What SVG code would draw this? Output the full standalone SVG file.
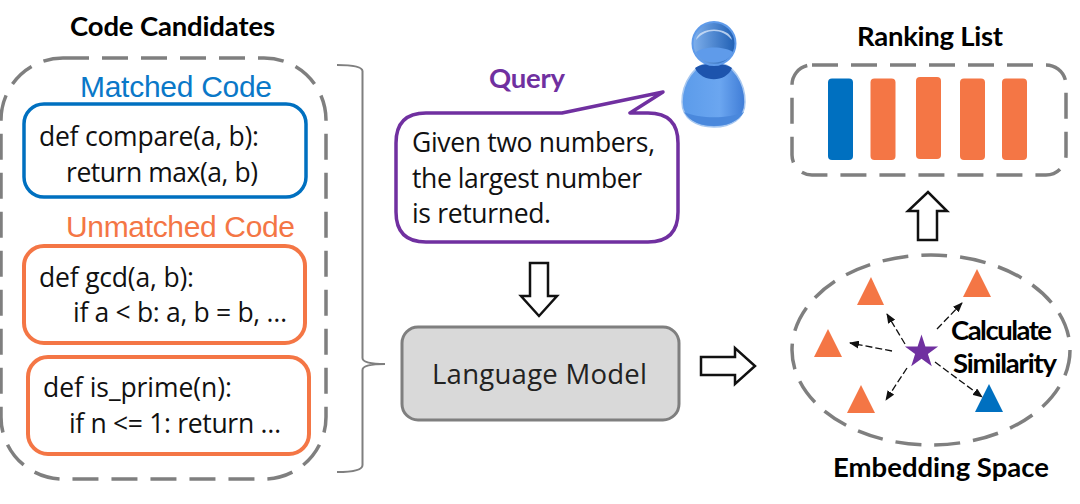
<svg xmlns="http://www.w3.org/2000/svg" width="1080" height="504" viewBox="0 0 1080 504">
<style>
.dash{fill:none;stroke:#7f7f7f;stroke-width:3.5;stroke-dasharray:26 13}
.code{font-family:"Open Sans","Liberation Sans",sans-serif;font-size:26.500px;fill:#111}
.title{font-family:Lato,"Open Sans",sans-serif;font-size:27.500px;font-weight:700;fill:#000}
.sub{font-family:"Liberation Sans",Arial,sans-serif;font-size:30px}
.blue{fill:none;stroke:#0070c0;stroke-width:3.5}
.orange{fill:none;stroke:#f47645;stroke-width:4}
.hollow{fill:#fff;stroke:#111;stroke-width:2.5;stroke-linejoin:miter}
.link{stroke:#111;stroke-width:1.3;stroke-dasharray:7 3;fill:none;marker-end:url(#tip)}
.ot{fill:#f47645}
</style>
<defs>
<marker id="tip" markerUnits="userSpaceOnUse" markerWidth="10" markerHeight="8" refX="9" refY="4" orient="auto"><path d="M0 0L10 4L0 8z" fill="#111"/></marker>
<linearGradient id="skin" x1="0" x2="1" y1="0" y2="0"><stop offset="0" stop-color="#5b9bea"/><stop offset=".6" stop-color="#6ba6f0"/><stop offset="1" stop-color="#3f7cd6"/></linearGradient>
<linearGradient id="headg" x1="0" x2="1" y1="0" y2="0"><stop offset="0" stop-color="#7fb0ec"/><stop offset="1" stop-color="#1f5fb4"/></linearGradient>
</defs>
<g id="candidates">
<text class="title" x="70" y="36" textLength="205">Code Candidates</text>
<rect class="dash" x="1" y="58" width="325" height="421" rx="62"/>
<path d="M337 65Q362 65 362.500 71V358Q362.500 364 385 364Q362.500 364 362.500 370V465Q362.500 472 337 472" fill="none" stroke="#7f7f7f" stroke-width="2"/>
</g>
<g id="matched">
<text class="sub" x="80" y="97" textLength="192" fill="#0a78c8">Matched Code</text>
<rect class="blue" x="24" y="104" width="282" height="93" rx="20"/>
<text class="code" x="39" y="146" textLength="220">def compare(a, b):</text>
<text class="code" x="66" y="182" textLength="192">return max(a, b)</text>
</g>
<g id="unmatched-gcd">
<text class="sub" x="66" y="237" textLength="229" fill="#f47645">Unmatched Code</text>
<rect class="orange" x="24" y="246" width="281" height="97" rx="20"/>
<text class="code" x="39" y="287" textLength="155">def gcd(a, b):</text>
<text class="code" x="73" y="322" textLength="214">if a &lt; b: a, b = b, …</text>
</g>
<g id="unmatched-prime">
<rect class="orange" x="28" y="357" width="281" height="97" rx="20"/>
<text class="code" x="43" y="397" textLength="189">def is_prime(n):</text>
<text class="code" x="69" y="433" textLength="212">if n &lt;= 1: return …</text>
</g>
<g id="query">
<text class="title" x="489" y="88" textLength="76" style="fill:#7030a0">Query</text>
<path d="M426 113H562L663 92L630 113H648Q678 113 678 143V212Q678 242 648 242H426Q396 242 396 212V143Q396 113 426 113Z" fill="#fff" stroke="#7030a0" stroke-width="3.500" stroke-linejoin="round"/>
<text class="code" x="412" y="152" textLength="243">Given two numbers,</text>
<text class="code" x="412" y="188" textLength="230">the largest number</text>
<text class="code" x="412" y="223" textLength="139">is returned.</text>
</g>
<g id="user">
<path d="M714 62C694 62 682 84 682 102C682 119 697 127 714 127C731 127 745 119 745 102C745 84 734 62 714 62Z" fill="url(#skin)" stroke="#a8c8f0" stroke-width="1.500"/>
<path d="M695 68C703 62 724 62 732 68C726 83 702 83 695 68Z" fill="#1d54ad"/>
<path d="M684 112C700 119 728 119 744 112C738 122 726 126 714 126C702 126 690 122 684 112Z" fill="#4a88dc"/>
<circle cx="714" cy="43.500" r="21.500" fill="url(#headg)" stroke="#5f9bea" stroke-width="2"/>
<path d="M696 52C704 46 724 46 733 52C728 66 700 66 696 52Z" fill="#5f9bea"/>
<path d="M696 40C698 26 730 26 732 40C722 28 706 28 696 40Z" fill="#d4e4f8" opacity=".8"/>
</g>
<g id="language-model">
<rect x="402" y="327" width="277" height="93" rx="16" fill="#d9d9d9" stroke="#7f7f7f" stroke-width="3"/>
<text x="432" y="384" textLength="215" font-family="Open Sans,Liberation Sans,sans-serif" font-size="27.500" fill="#222">Language Model</text>
</g>
<g id="ranking">
<text class="title" x="857" y="46" textLength="146">Ranking List</text>
<rect class="dash" x="792" y="65" width="274" height="110" rx="20"/>
<rect x="828" y="78.500" width="25" height="81.500" rx="4" fill="#0070c0"/>
<rect class="ot" x="870.500" y="78.500" width="25" height="81.500" rx="4"/>
<rect class="ot" x="916" y="77" width="25" height="82" rx="4"/>
<rect class="ot" x="960" y="78.500" width="25" height="81.500" rx="4"/>
<rect class="ot" x="1002" y="78.500" width="25" height="81.500" rx="4"/>
</g>
<g id="embedding">
<ellipse class="dash" cx="931" cy="350" rx="139" ry="95"/>
<path class="ot" d="M871 277L857 305H884Z"/>
<path class="ot" d="M977 269L963 297H991Z"/>
<path class="ot" d="M828 329L814 357H842Z"/>
<path class="ot" d="M861 385L847 413H875Z"/>
<path d="M989 384L975 412H1003Z" fill="#0070c0"/>
<path d="M921.500 334.500L925.400 346.600L938.100 346.600L927.900 354.100L931.800 366.200L921.500 358.700L911.200 366.200L915.100 354.100L904.900 346.600L917.600 346.600Z" fill="#7030a0"/>
<text class="title" x="951" y="340" textLength="101">Calculate</text>
<text class="title" x="953" y="373" textLength="104">Similarity</text>
<text class="title" x="833" y="477" textLength="216">Embedding Space</text>
</g>
<g id="connectors">
<path class="hollow" d="M530 263H548V296H557L539 316L521 296H530Z"/>
<path class="hollow" d="M701 357H735V348L755 366L735 384V375H701Z"/>
<path class="hollow" d="M918 240V211H908L928 192L947 211H937V240Z"/>
<path class="link" d="M905 344L887 314"/>
<path class="link" d="M892 351L850 343"/>
<path class="link" d="M907 368L886 400"/>
<path class="link" d="M937 329L962 303"/>
<path class="link" d="M935 362L982 397"/>
</g>
</svg>
